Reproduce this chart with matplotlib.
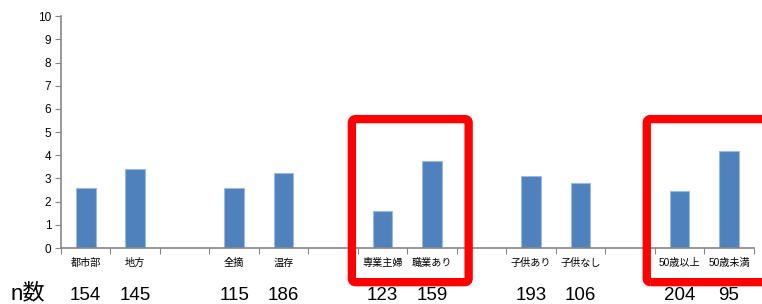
import numpy as np
import matplotlib as mpl
mpl.use('Agg')
import matplotlib.pyplot as plt
from matplotlib.patches import FancyBboxPatch
from matplotlib.transforms import blended_transform_factory

plt.rcParams['font.family'] = ['Liberation Sans', 'Noto Sans CJK JP', 'DejaVu Sans']

# empty strings are the gaps between the groups
categories = ['都市部', '地方', '', '全摘', '温存', '', '専業主婦', '職業あり', '',
              '子供あり', '子供なし', '', '50歳以上', '50歳未満']
values = [2.6, 3.43, np.nan, 2.6, 3.22, np.nan, 1.61, 3.76, np.nan,
          3.1, 2.81, np.nan, 2.44, 4.19]
n_counts = ['154', '145', '', '115', '186', '', '123', '159', '',
            '193', '106', '', '204', '95']

fig = plt.figure(figsize=(7.62, 3.04), dpi=100)
ax = fig.add_axes([0.080, 0.184, 0.909, 0.763])

x = np.arange(len(categories))
ax.bar(x, values, width=0.4, color='#4F81BD', edgecolor='#9DB9DF', linewidth=0.8)

ax.set_xlim(-0.5, len(categories) - 0.5)
ax.set_ylim(0, 10)
ax.set_yticks(range(0, 11))
ax.tick_params(axis='y', labelsize=8.5, length=4, color='#868686', pad=3)

# ticks sit on the slot boundaries, labels in the middle of each slot
ax.set_xticks(np.arange(len(categories) + 1) - 0.5)
ax.set_xticklabels([])
ax.set_xticks(x, minor=True)
ax.set_xticklabels(categories, minor=True, fontsize=7.3)
ax.tick_params(axis='x', which='major', length=4, color='#868686')
ax.tick_params(axis='x', which='minor', length=0, pad=7)

for s in ['top', 'right']:
    ax.spines[s].set_visible(False)
for s in ['left', 'bottom']:
    ax.spines[s].set_color('#868686')
    ax.spines[s].set_linewidth(1.2)

# n数 row
tr = blended_transform_factory(ax.transData, fig.transFigure)
for xi, n in zip(x, n_counts):
    ax.text(xi, 0.028, n, transform=tr, ha='center', va='center', fontsize=13.5)
fig.text(0.037, 0.032, 'n数', ha='center', va='center', fontsize=16)

# red highlight boxes
for x0, x1 in [(5.38, 7.74), (11.34, 14.9)]:
    box = FancyBboxPatch((x0, -1.47), x1 - x0, 7.03,
                         boxstyle='round,pad=0,rounding_size=0.08',
                         mutation_aspect=2.1,
                         fill=False, edgecolor='#FF0000', linewidth=6,
                         clip_on=False, zorder=5)
    ax.add_patch(box)

fig.savefig('out.png', dpi=100)
